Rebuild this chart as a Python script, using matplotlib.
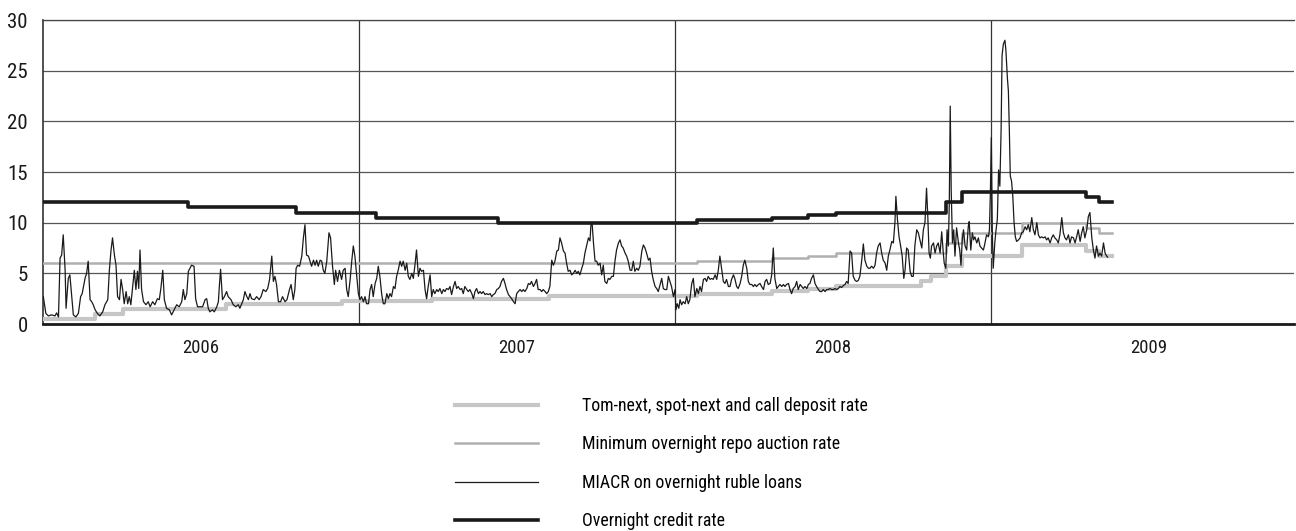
import matplotlib
matplotlib.use("Agg")
import matplotlib.pyplot as plt

plt.rcParams['font.family'] = ['Roboto Condensed', 'Open Sans Condensed', 'Liberation Sans Narrow', 'Lato', 'DejaVu Sans']

# dates are decimal years
years = [2006, 2007, 2008, 2009]

credit_t = [2006.0, 2006.46, 2006.80, 2007.054, 2007.44, 2008.07, 2008.307, 2008.42,
            2008.51, 2008.857, 2008.907, 2009.30, 2009.343, 2009.382]
credit_v = [12.0, 11.5, 11.0, 10.5, 10.0, 10.25, 10.5, 10.75,
            11.0, 12.0, 13.0, 12.5, 12.0, 12.0]

repo_t = [2006.0, 2008.07, 2008.307, 2008.42, 2008.51, 2008.857, 2008.907,
          2009.097, 2009.30, 2009.343, 2009.382]
repo_v = [6.0, 6.25, 6.5, 6.75, 7.0, 8.0, 9.0, 10.0, 9.5, 9.0, 9.0]

deposit_t = [2006.0, 2006.165, 2006.253, 2006.58, 2006.946, 2007.23, 2007.60,
             2008.07, 2008.307, 2008.42, 2008.51, 2008.78, 2008.81, 2008.857,
             2008.907, 2009.097, 2009.30, 2009.343, 2009.382]
deposit_v = [0.5, 1.0, 1.5, 2.0, 2.25, 2.5, 2.75,
             3.0, 3.25, 3.5, 3.75, 4.25, 4.75, 5.75,
             6.75, 7.75, 7.25, 6.75, 6.75]

miacr_t = [
    2006.001, 2006.009, 2006.017, 2006.027, 2006.038, 2006.043, 2006.049, 2006.054, 2006.059, 2006.064,
    2006.070, 2006.073, 2006.080, 2006.085, 2006.091, 2006.096, 2006.104, 2006.112, 2006.119, 2006.124,
    2006.133, 2006.138, 2006.143, 2006.149, 2006.154, 2006.159, 2006.165, 2006.172, 2006.180, 2006.189,
    2006.196, 2006.205, 2006.210, 2006.215, 2006.220, 2006.226, 2006.231, 2006.236, 2006.242, 2006.247,
    2006.252, 2006.257, 2006.263, 2006.268, 2006.273, 2006.278, 2006.284, 2006.289, 2006.294, 2006.299,
    2006.303, 2006.307, 2006.312, 2006.318, 2006.326, 2006.333, 2006.339, 2006.347, 2006.354, 2006.362,
    2006.368, 2006.373, 2006.379, 2006.384, 2006.391, 2006.400, 2006.407, 2006.415, 2006.423, 2006.431,
    2006.439, 2006.444, 2006.449, 2006.455, 2006.460, 2006.465, 2006.470, 2006.478, 2006.483, 2006.489,
    2006.497, 2006.505, 2006.513, 2006.518, 2006.523, 2006.528, 2006.536, 2006.542, 2006.550, 2006.555,
    2006.558, 2006.562, 2006.568, 2006.574, 2006.581, 2006.586, 2006.595, 2006.602, 2006.610, 2006.618,
    2006.623, 2006.629, 2006.634, 2006.639, 2006.645, 2006.650, 2006.655, 2006.660, 2006.669, 2006.676,
    2006.684, 2006.690, 2006.697, 2006.705, 2006.711, 2006.717, 2006.724, 2006.729, 2006.734, 2006.739,
    2006.745, 2006.752, 2006.758, 2006.766, 2006.772, 2006.780, 2006.785, 2006.792, 2006.797, 2006.801,
    2006.806, 2006.812, 2006.819, 2006.824, 2006.829, 2006.834, 2006.840, 2006.845, 2006.850, 2006.856,
    2006.861, 2006.866, 2006.871, 2006.877, 2006.882, 2006.887, 2006.892, 2006.898, 2006.905, 2006.910,
    2006.916, 2006.922, 2006.926, 2006.932, 2006.938, 2006.945, 2006.950, 2006.956, 2006.961, 2006.966,
    2006.972, 2006.977, 2006.982, 2006.987, 2006.993, 2006.998, 2007.003, 2007.008, 2007.014, 2007.019,
    2007.024, 2007.030, 2007.035, 2007.040, 2007.045, 2007.051, 2007.056, 2007.061, 2007.066, 2007.072,
    2007.077, 2007.082, 2007.088, 2007.093, 2007.098, 2007.103, 2007.109, 2007.114, 2007.119, 2007.124,
    2007.130, 2007.135, 2007.140, 2007.146, 2007.151, 2007.156, 2007.161, 2007.167, 2007.172, 2007.177,
    2007.182, 2007.188, 2007.193, 2007.198, 2007.204, 2007.209, 2007.214, 2007.219, 2007.225, 2007.230,
    2007.235, 2007.240, 2007.246, 2007.251, 2007.256, 2007.262, 2007.267, 2007.272, 2007.277, 2007.283,
    2007.288, 2007.293, 2007.299, 2007.304, 2007.309, 2007.314, 2007.320, 2007.325, 2007.330, 2007.335,
    2007.341, 2007.346, 2007.351, 2007.357, 2007.362, 2007.367, 2007.372, 2007.378, 2007.383, 2007.388,
    2007.393, 2007.399, 2007.404, 2007.409, 2007.415, 2007.420, 2007.425, 2007.430, 2007.436, 2007.441,
    2007.446, 2007.451, 2007.457, 2007.462, 2007.467, 2007.473, 2007.478, 2007.483, 2007.489, 2007.494,
    2007.499, 2007.504, 2007.510, 2007.515, 2007.520, 2007.525, 2007.531, 2007.536, 2007.541, 2007.546,
    2007.552, 2007.557, 2007.562, 2007.567, 2007.573, 2007.578, 2007.583, 2007.589, 2007.594, 2007.599,
    2007.604, 2007.610, 2007.615, 2007.620, 2007.626, 2007.631, 2007.636, 2007.641, 2007.647, 2007.652,
    2007.657, 2007.662, 2007.668, 2007.673, 2007.678, 2007.684, 2007.689, 2007.694, 2007.699, 2007.705,
    2007.710, 2007.715, 2007.720, 2007.726, 2007.731, 2007.734, 2007.738, 2007.742, 2007.747, 2007.752,
    2007.757, 2007.763, 2007.768, 2007.773, 2007.778, 2007.784, 2007.789, 2007.794, 2007.800, 2007.805,
    2007.810, 2007.815, 2007.821, 2007.826, 2007.831, 2007.836, 2007.842, 2007.847, 2007.852, 2007.858,
    2007.863, 2007.868, 2007.873, 2007.879, 2007.884, 2007.889, 2007.895, 2007.900, 2007.905, 2007.910,
    2007.916, 2007.921, 2007.926, 2007.931, 2007.937, 2007.942, 2007.947, 2007.953, 2007.958, 2007.963,
    2007.968, 2007.974, 2007.979, 2007.984, 2007.989, 2007.995, 2008.000, 2008.003, 2008.007, 2008.012,
    2008.016, 2008.021, 2008.026, 2008.032, 2008.037, 2008.042, 2008.047, 2008.053, 2008.058, 2008.063,
    2008.069, 2008.074, 2008.079, 2008.084, 2008.090, 2008.095, 2008.100, 2008.105, 2008.111, 2008.116,
    2008.121, 2008.127, 2008.132, 2008.137, 2008.142, 2008.148, 2008.153, 2008.158, 2008.163, 2008.169,
    2008.174, 2008.179, 2008.185, 2008.190, 2008.195, 2008.200, 2008.206, 2008.211, 2008.216, 2008.221,
    2008.227, 2008.232, 2008.237, 2008.243, 2008.248, 2008.253, 2008.258, 2008.264, 2008.269, 2008.274,
    2008.280, 2008.285, 2008.290, 2008.295, 2008.301, 2008.306, 2008.311, 2008.316, 2008.322, 2008.327,
    2008.332, 2008.338, 2008.343, 2008.348, 2008.353, 2008.359, 2008.364, 2008.369, 2008.374, 2008.380,
    2008.385, 2008.390, 2008.396, 2008.401, 2008.406, 2008.411, 2008.417, 2008.422, 2008.427, 2008.432,
    2008.438, 2008.443, 2008.448, 2008.454, 2008.459, 2008.464, 2008.469, 2008.475, 2008.480, 2008.485,
    2008.490, 2008.496, 2008.501, 2008.506, 2008.512, 2008.517, 2008.522, 2008.527, 2008.533, 2008.538,
    2008.543, 2008.548, 2008.554, 2008.559, 2008.564, 2008.570, 2008.575, 2008.580, 2008.585, 2008.591,
    2008.596, 2008.601, 2008.607, 2008.612, 2008.617, 2008.622, 2008.628, 2008.633, 2008.638, 2008.643,
    2008.649, 2008.654, 2008.659, 2008.665, 2008.670, 2008.675, 2008.680, 2008.686, 2008.691, 2008.696,
    2008.699, 2008.704, 2008.709, 2008.714, 2008.719, 2008.724, 2008.728, 2008.733, 2008.738, 2008.744,
    2008.749, 2008.754, 2008.759, 2008.765, 2008.770, 2008.775, 2008.781, 2008.786, 2008.791, 2008.796,
    2008.800, 2008.804, 2008.808, 2008.812, 2008.818, 2008.823, 2008.828, 2008.833, 2008.839, 2008.844,
    2008.849, 2008.852, 2008.857, 2008.861, 2008.865, 2008.868, 2008.871, 2008.874, 2008.878, 2008.882,
    2008.886, 2008.891, 2008.897, 2008.901, 2008.905, 2008.909, 2008.913, 2008.918, 2008.923, 2008.928,
    2008.931, 2008.936, 2008.941, 2008.945, 2008.949, 2008.955, 2008.960, 2008.965, 2008.970, 2008.976,
    2008.981, 2008.986, 2008.992, 2008.995, 2008.998, 2009.001, 2009.004, 2009.007, 2009.012, 2009.016,
    2009.020, 2009.024, 2009.028, 2009.032, 2009.035, 2009.039, 2009.044, 2009.047, 2009.052, 2009.055,
    2009.058, 2009.061, 2009.065, 2009.069, 2009.073, 2009.077, 2009.081, 2009.087, 2009.092, 2009.097,
    2009.102, 2009.108, 2009.113, 2009.118, 2009.123, 2009.129, 2009.134, 2009.139, 2009.145, 2009.150,
    2009.155, 2009.160, 2009.166, 2009.171, 2009.176, 2009.181, 2009.187, 2009.192, 2009.197, 2009.202,
    2009.208, 2009.213, 2009.218, 2009.224, 2009.229, 2009.234, 2009.239, 2009.245, 2009.250, 2009.255,
    2009.261, 2009.266, 2009.271, 2009.276, 2009.282, 2009.287, 2009.292, 2009.297, 2009.303, 2009.308,
    2009.313, 2009.319, 2009.324, 2009.329, 2009.334, 2009.340, 2009.345, 2009.350, 2009.356, 2009.361,
    2009.366, 2009.369,
]
miacr_v = [
    2.7, 1.05, 0.8, 0.9, 0.8, 1.1, 0.7, 6.5, 6.8, 8.8,
    5.3, 1.55, 4.5, 4.85, 2.7, 0.9, 0.7, 1.05, 2.7, 3.0,
    4.5, 5.0, 6.2, 2.4, 2.2, 1.9, 1.4, 1.05, 0.8, 1.2,
    1.9, 2.4, 5.3, 7.2, 8.5, 6.8, 5.8, 2.7, 2.4, 4.4,
    3.4, 2.0, 3.2, 2.0, 2.7, 1.9, 3.7, 5.3, 3.4, 5.2,
    3.5, 7.3, 3.4, 2.2, 1.9, 2.2, 1.7, 2.2, 1.9, 2.5,
    2.4, 3.5, 5.3, 2.4, 1.55, 1.4, 0.9, 1.4, 1.9, 1.7,
    2.2, 3.4, 2.4, 3.0, 5.2, 5.5, 5.8, 5.7, 2.5, 1.7,
    1.7, 1.7, 2.4, 2.5, 1.55, 1.2, 1.4, 1.2, 1.7, 2.2,
    3.7, 5.4, 2.4, 2.7, 3.2, 2.7, 2.4, 1.9, 1.7, 1.9,
    1.55, 2.0, 2.4, 3.2, 2.7, 2.4, 3.0, 2.5, 2.4, 2.7,
    2.4, 2.7, 3.4, 3.2, 3.5, 4.4, 6.7, 4.2, 4.7, 3.9,
    2.2, 2.2, 2.7, 2.2, 2.4, 3.4, 3.9, 2.4, 3.4, 5.5,
    5.8, 5.7, 6.7, 8.5, 9.8, 6.8, 6.7, 6.2, 5.7, 6.3,
    5.8, 6.3, 5.7, 6.3, 6.2, 5.3, 5.0, 6.2, 9.0, 8.5,
    5.8, 3.9, 5.3, 4.2, 5.3, 4.4, 5.3, 5.5, 3.4, 2.7,
    4.4, 6.2, 7.7, 6.7, 4.7, 3.0, 2.4, 2.7, 2.2, 2.7,
    2.0, 2.0, 3.4, 3.9, 2.7, 4.0, 4.5, 5.7, 4.7, 2.9,
    2.0, 2.0, 3.0, 2.5, 3.0, 2.7, 3.7, 3.5, 4.7, 5.3,
    6.2, 5.7, 6.2, 5.3, 6.0, 4.7, 4.4, 5.0, 4.5, 5.8,
    7.3, 4.7, 5.5, 5.2, 5.3, 3.4, 2.5, 3.7, 4.85, 2.7,
    3.4, 3.0, 3.4, 3.2, 3.5, 3.0, 3.4, 3.2, 3.5, 3.4,
    3.7, 2.9, 3.7, 4.2, 3.5, 3.7, 3.4, 3.5, 3.0, 3.7,
    3.4, 3.2, 3.4, 3.0, 2.5, 3.2, 3.5, 3.0, 3.2, 3.0,
    3.2, 2.9, 3.0, 2.9, 3.0, 2.7, 2.9, 3.0, 3.4, 3.5,
    3.7, 4.2, 4.5, 4.0, 3.4, 2.9, 2.7, 2.5, 2.2, 2.0,
    3.0, 3.2, 3.4, 3.2, 3.4, 3.2, 3.5, 4.0, 3.9, 4.2,
    3.7, 4.0, 4.4, 3.4, 3.4, 3.2, 3.4, 3.2, 3.0, 3.2,
    3.7, 6.3, 5.8, 6.2, 7.2, 7.3, 8.5, 8.0, 7.2, 7.0,
    6.0, 5.2, 5.3, 4.85, 5.0, 5.3, 5.0, 5.2, 4.85, 5.5,
    6.0, 7.0, 7.7, 8.5, 8.2, 9.8, 9.8, 8.0, 6.2, 6.2,
    5.8, 6.0, 4.85, 5.8, 4.2, 4.0, 4.5, 4.4, 4.7, 4.7,
    6.2, 7.3, 8.0, 8.3, 7.7, 7.5, 7.0, 6.7, 6.2, 5.3,
    5.3, 6.2, 5.2, 5.5, 5.3, 5.7, 7.2, 7.8, 7.5, 7.0,
    6.3, 6.5, 5.2, 4.4, 3.7, 3.5, 3.2, 3.9, 4.5, 3.5,
    3.4, 3.4, 4.7, 4.2, 3.7, 2.7, 3.4, 1.4, 2.0, 1.55,
    2.4, 1.9, 2.2, 2.0, 2.7, 2.0, 2.4, 4.0, 4.5, 2.7,
    3.5, 3.0, 3.7, 3.2, 4.4, 4.5, 4.2, 4.7, 4.4, 4.5,
    4.4, 4.85, 4.4, 5.3, 6.7, 5.3, 4.2, 4.0, 4.4, 3.7,
    3.7, 4.4, 4.85, 4.4, 3.7, 3.5, 4.0, 4.7, 5.8, 6.3,
    5.5, 4.2, 3.9, 3.9, 3.7, 3.9, 3.7, 3.9, 4.0, 3.7,
    3.4, 4.2, 4.4, 3.9, 4.0, 4.85, 7.5, 4.5, 3.5, 3.7,
    3.9, 3.7, 3.9, 3.7, 3.9, 4.0, 3.4, 3.0, 3.5, 3.7,
    4.2, 3.4, 3.9, 3.7, 3.5, 3.7, 3.5, 3.9, 4.0, 4.5,
    4.85, 4.0, 3.7, 3.4, 3.2, 3.2, 3.4, 3.2, 3.4, 3.4,
    3.5, 3.4, 3.4, 3.5, 3.4, 3.5, 3.7, 3.6, 3.8, 3.9,
    4.2, 4.0, 7.2, 7.0, 4.7, 4.3, 4.2, 4.3, 4.7, 6.3,
    7.9, 6.3, 5.7, 5.5, 5.5, 5.7, 5.5, 5.8, 7.0, 7.7,
    8.0, 7.0, 6.3, 6.0, 5.3, 6.7, 7.3, 8.15, 8.0, 10.0,
    12.6, 10.3, 8.6, 7.7, 6.7, 4.5, 5.3, 7.5, 7.3, 5.2,
    4.7, 4.7, 7.7, 9.3, 9.0, 8.3, 7.5, 9.3, 10.0, 13.4,
    10.6, 7.0, 6.5, 7.7, 8.0, 7.0, 7.7, 8.0, 7.0, 9.1,
    7.0, 6.0, 5.5, 9.3, 7.7, 11.9, 21.5, 13.3, 8.0, 9.3,
    6.7, 9.5, 8.0, 7.3, 5.8, 8.3, 9.3, 7.7, 7.3, 9.6,
    10.1, 7.3, 9.0, 8.3, 8.6, 8.0, 8.5, 7.7, 7.5, 7.3,
    8.0, 8.8, 8.6, 9.3, 12.9, 18.4, 9.3, 5.5, 8.0, 9.3,
    10.3, 15.2, 13.6, 19.2, 26.5, 27.6, 28.0, 27.1, 24.2, 23.0,
    19.2, 14.6, 14.1, 12.6, 10.0, 8.6, 8.15, 8.3, 8.5, 9.0,
    9.1, 9.6, 9.3, 9.8, 9.1, 10.5, 9.3, 8.8, 10.0, 8.8,
    8.5, 8.6, 8.5, 8.6, 8.3, 8.5, 8.0, 8.5, 8.8, 8.5,
    8.3, 8.0, 8.8, 10.5, 9.0, 8.5, 8.3, 8.8, 8.0, 8.6,
    8.5, 8.0, 8.6, 9.3, 8.15, 9.0, 9.6, 8.5, 9.3, 10.6,
    11.0, 8.5, 7.3, 6.5, 7.7, 6.7, 7.0, 6.7, 8.0, 7.0,
    6.7, 6.6,
]

labels = ['Tom-next, spot-next and call deposit rate',
          'Minimum overnight repo auction rate',
          'MIACR on overnight ruble loans',
          'Overnight credit rate']

fig = plt.figure(figsize=(12.96, 5.31), dpi=100)
ax = fig.add_axes([43 / 1296, 1 - 324 / 531, (1294 - 43) / 1296, (324 - 20) / 531])

l_dep, = ax.plot(deposit_t, deposit_v, drawstyle='steps-post', color='#c6c6c6', lw=3.0, zorder=3)
l_repo, = ax.plot(repo_t, repo_v, drawstyle='steps-post', color='#b0b0b0', lw=1.8, zorder=3)
l_cred, = ax.plot(credit_t, credit_v, drawstyle='steps-post', color='#1a1a1a', lw=2.6, zorder=4)
l_mia, = ax.plot(miacr_t, miacr_v, color='#1a1a1a', lw=0.9, zorder=5)

ax.set_xlim(2006, 2006 + (1294 - 43) / 316)
ax.set_ylim(0, 30)
ax.set_yticks([0, 5, 10, 15, 20, 25, 30])
ax.set_xticks(years[1:])
ax.set_xticklabels([])
ax.set_xticks([y + 0.5 for y in years], minor=True)
ax.set_xticklabels([str(y) for y in years], minor=True)
ax.tick_params(axis='x', which='both', length=0, pad=11, labelsize=13.5, colors='#1a1a1a')
ax.tick_params(axis='y', length=0, pad=11, labelsize=15, colors='#1a1a1a')

ax.grid(axis='y', color='#555555', lw=0.9, zorder=1)
ax.grid(axis='x', which='major', color='#333333', lw=0.9, zorder=1)

ax.spines['right'].set_visible(False)
ax.spines['top'].set_color('#444444')
ax.spines['top'].set_linewidth(0.9)
ax.spines['left'].set_color('#333333')
ax.spines['left'].set_linewidth(1.2)
ax.spines['bottom'].set_color('#1a1a1a')
ax.spines['bottom'].set_linewidth(2.0)

fig.legend([l_dep, l_repo, l_mia, l_cred], labels, loc='upper left',
           bbox_to_anchor=(455 / 1296, 1 - 397 / 531), frameon=False,
           fontsize=12.8, handlelength=4.65, handletextpad=2.5, labelspacing=1.15,
           borderpad=0, borderaxespad=0)

fig.savefig('out.png', dpi=100)
